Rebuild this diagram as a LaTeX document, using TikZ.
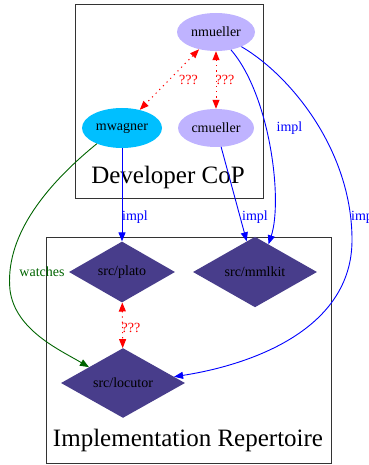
\documentclass[tikz,border=0pt]{standalone}
\usepackage{fontspec}
\setmainfont{Liberation Serif}
\usetikzlibrary{shapes.geometric,arrows.meta}
\definecolor{devfill}{HTML}{BFB3FF}
\definecolor{skyfill}{HTML}{00BFFF}
\definecolor{repofill}{HTML}{483D8B}
\definecolor{watchgreen}{HTML}{006400}
\tikzset{
  person/.style={ellipse, draw=none, fill=devfill, minimum width=78pt, minimum height=38pt, inner sep=0pt,
    font=\fontsize{14}{16}\selectfont},
  repo/.style={diamond, draw=none, fill=repofill, inner sep=0pt, minimum height=56pt,
    font=\fontsize{14}{16}\selectfont},
  cluster/.style={draw=black!80, line width=0.9pt},
  clusterlabel/.style={font=\fontsize{25}{28}\selectfont},
  unknown/.style={red, line width=1pt, dash pattern=on 1.2pt off 4pt, <->},
  impl/.style={blue, line width=0.9pt, ->},
  watch/.style={watchgreen, line width=0.9pt, ->},
  elabel/.style={font=\fontsize{14}{16}\selectfont, inner sep=0pt},
}
\begin{document}
\begin{tikzpicture}[x=1pt,y=-1pt,>={Triangle[length=9pt,width=7pt]}]
\useasboundingbox (0,0) rectangle (368,465);

% clusters
\draw[cluster] (75,4.5) rectangle (263,198.5);
\node[clusterlabel] (copl) at (168,177) {Developer CoP};
\draw[cluster] (46,237) rectangle (331,463);
\node[clusterlabel] (repl) at (188,440) {Implementation Repertoire};

% developers
\node[person] (nm) at (216,32) {nmueller};
\node[person, fill=skyfill, minimum width=80pt, minimum height=40pt] (mw) at (122,128) {mwagner};
\node[person, minimum width=76pt] (cm) at (216,128) {cmueller};

% repositories
\node[repo, minimum width=106pt] (plato) at (122,272) {src/plato};
\node[repo, minimum width=124pt] (mml) at (255,272) {src/mmlkit};
\node[repo, minimum width=124pt] (loc) at (123,383) {src/locutor};

% unknown relations
\draw[unknown] (nm) -- (mw);
\node[elabel, red] (q1) at (188.5,80) {???};
\draw[unknown] (nm) -- (cm);
\node[elabel, red] (q2) at (225,80) {???};
\draw[unknown] (plato) -- (loc);
\node[elabel, red] (q3) at (131,328) {???};

% implementation edges
\draw[impl] (mw) -- (plato);
\node[elabel, blue] (i1) at (135,217) {impl};
\draw[impl] (cm) -- (mml);
\node[elabel, blue] (i2) at (255,217) {impl};
\draw[impl] (nm.-50) .. controls (270,95) and (283,200) .. (mml.64);
\node[elabel, blue] (i3) at (289.5,128) {impl};
\draw[impl] (nm.-30) .. controls (290,75) and (352,150) .. (352,240)
  .. controls (352,330) and (250,365) .. (loc.7);
\node[elabel, blue, anchor=west] (i4) at (351,217) {impl};

% watching edge
\draw[watch] (mw.212) .. controls (40,190) and (5,240) .. (10,290)
  .. controls (15,330) and (60,350) .. (loc.155);
\node[elabel, watchgreen] (w1) at (42,272) {watches};
\end{tikzpicture}
\end{document}
